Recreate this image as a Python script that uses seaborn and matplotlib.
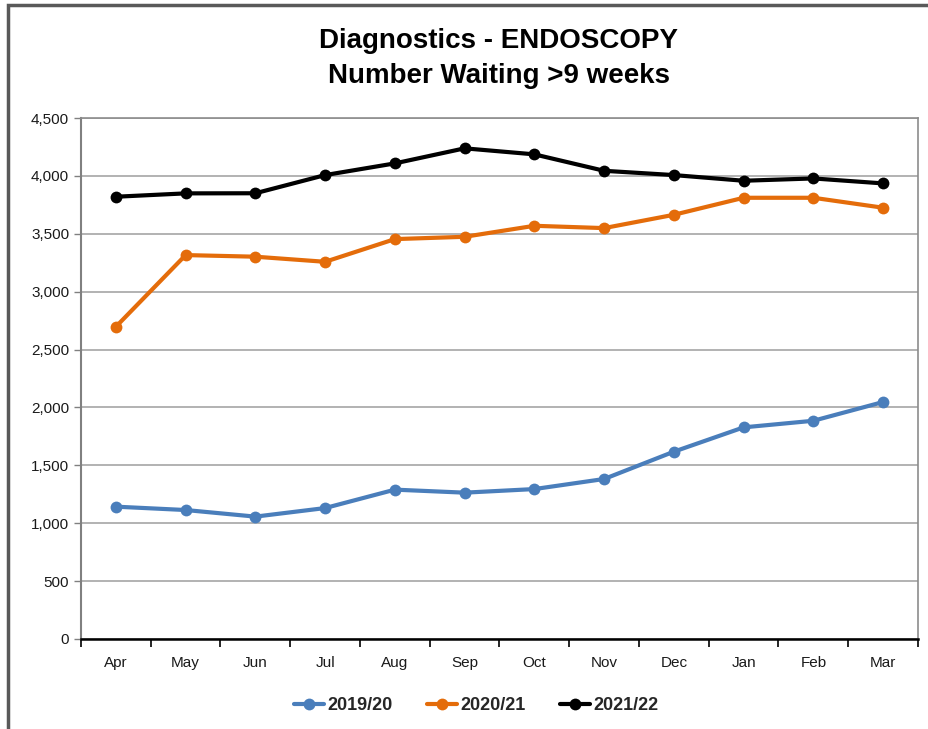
import matplotlib
matplotlib.use("Agg")
import matplotlib.pyplot as plt
import matplotlib.ticker as mticker
import seaborn as sns
import pandas as pd
import numpy as np

months = ["Apr", "May", "Jun", "Jul", "Aug", "Sep", "Oct", "Nov", "Dec", "Jan", "Feb", "Mar"]
series_names = ["2019/20", "2020/21", "2021/22"]
v_2019_20 = [1143, 1114, 1057, 1131, 1290, 1264, 1295, 1382, 1618, 1828, 1885, 2047]
v_2020_21 = [2697, 3316, 3302, 3258, 3454, 3474, 3569, 3549, 3664, 3811, 3811, 3725]
v_2021_22 = [3820, 3849, 3850, 4007, 4108, 4238, 4186, 4044, 4007, 3958, 3978, 3935]
colors = ["#4a7ebb", "#e46c0a", "#000000"]

sns.set_theme(style="white")
plt.rcParams['font.family'] = ['Liberation Sans', 'DejaVu Sans']

rows = []
for name, vals in zip(series_names, [v_2019_20, v_2020_21, v_2021_22]):
    for i, (m, v) in enumerate(zip(months, vals)):
        rows.append({"idx": i, "month": m, "value": v, "series": name})
df = pd.DataFrame(rows)

fig = plt.figure(figsize=(9.29, 7.29), dpi=100)
ax = fig.add_axes([81/929, 1-639/729, (918-81)/929, (639-118)/729])

sns.lineplot(data=df, x="idx", y="value", hue="series", palette=colors,
             marker="o", markersize=8.5, markeredgewidth=0, linewidth=3,
             ax=ax, legend=False)

ax.set_xlim(-0.5, 11.5)
ax.set_ylim(0, 4500)
ax.yaxis.set_major_locator(mticker.MultipleLocator(500))
ax.yaxis.set_major_formatter(mticker.FuncFormatter(lambda v, p: f"{int(v):,}"))
ax.grid(axis="y", color="#a6a6a6", linewidth=1.2)
ax.set_axisbelow(True)

# ticks at category boundaries, labels at centres
ax.set_xticks(np.arange(-0.5, 12, 1))
ax.set_xticklabels([])
ax.set_xticks(np.arange(12), minor=True)
ax.set_xticklabels(months, minor=True)
ax.tick_params(axis="x", which="major", direction="out", length=6, width=1.2, color="black", bottom=True)
ax.tick_params(axis="x", which="minor", length=0, pad=12, labelsize=11, labelcolor="#1a1a1a")
ax.tick_params(axis="y", direction="out", length=5, width=1, color="#808080", left=True, labelsize=11, labelcolor="#1a1a1a")
ax.set_xlabel("")
ax.set_ylabel("")

ax.spines["left"].set_color("#808080")
ax.spines["left"].set_linewidth(1.5)
ax.spines["bottom"].set_color("black")
ax.spines["bottom"].set_linewidth(1.8)
ax.spines["top"].set_color("#8c8c8c")
ax.spines["right"].set_color("#8c8c8c")
ax.spines["top"].set_linewidth(1.2)
ax.spines["right"].set_linewidth(1.2)

fig.text(0.537, 1-41/729, "Diagnostics - ENDOSCOPY", ha="center", va="center",
         fontsize=20, fontweight="bold", color="black")
fig.text(0.537, 1-76/729, "Number Waiting >9 weeks", ha="center", va="center",
         fontsize=20, fontweight="bold", color="black")

from matplotlib.lines import Line2D
handles = [Line2D([0], [0], color=c, lw=3, marker="o", markersize=8.5, markeredgewidth=0) for c in colors]
leg = fig.legend(handles, series_names, loc="center", bbox_to_anchor=(476/929, 1-706/729),
                 ncol=3, frameon=False, handlelength=1.7, handletextpad=0.15, columnspacing=1.9,
                 prop={"weight": "bold", "size": 13})

# outer frame of the chart object
fig.patches.append(matplotlib.patches.Rectangle((8/929, -0.05), 1.1, 1-5/729+0.05,
                   transform=fig.transFigure, fill=False, edgecolor="#595959", linewidth=2.5))

fig.savefig("out.png", dpi=100)
